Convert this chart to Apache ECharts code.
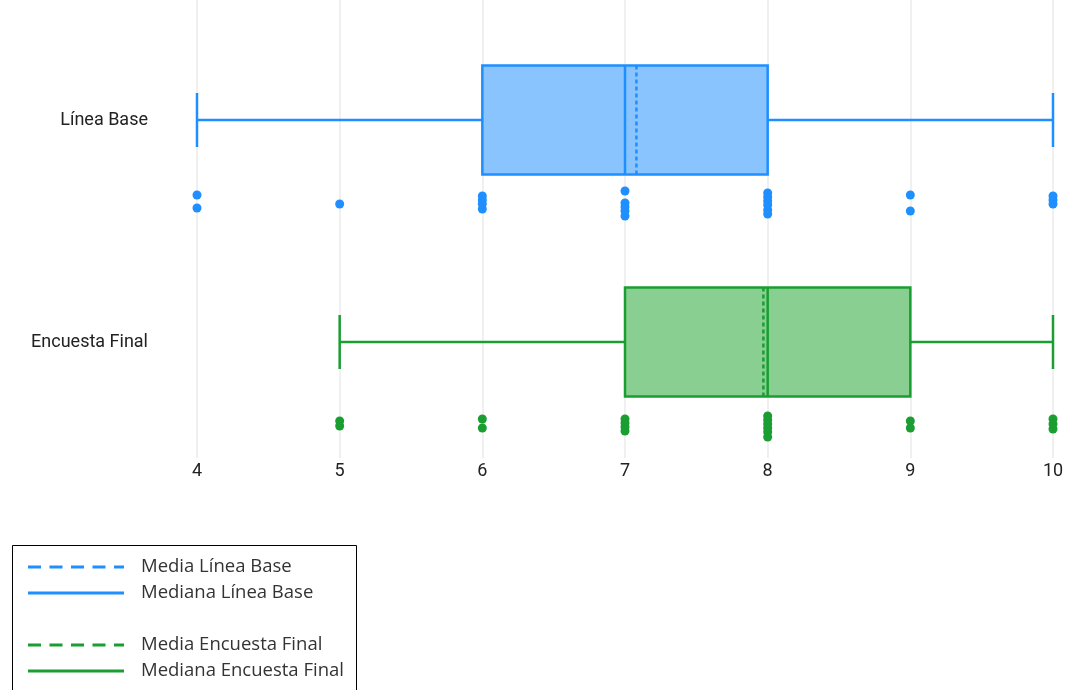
<!DOCTYPE html>
<html><head><meta charset="utf-8">
<script src="https://cdn.jsdelivr.net/npm/echarts@6/dist/echarts.min.js"></script>
<style>html,body{margin:0;padding:0;background:#fff}#c{width:1065px;height:690px}</style>
</head><body><div id="c"></div>
<script>
// ---- data ----
const categories = ['Línea Base', 'Encuesta Final'];
const xTicks = [4, 5, 6, 7, 8, 9, 10];
// [min, q1, median, q3, max, mean]
const statsBase  = [4, 6, 7, 8, 10, 7.08];
const statsFinal = [5, 7, 8, 9, 10, 7.97];
// individual responses (x) with vertical jitter offsets (px below the group row)
const baseX      = [4, 4, 5, 6, 6, 6, 6, 7, 7, 7, 7, 7, 8, 8, 8, 8, 8, 8, 9, 9, 10, 10, 10];
const baseJitter = [75, 88, 84, 76, 80, 84, 89, 71, 83, 87, 91, 96, 73, 77, 81, 85, 90, 94, 75, 91, 76, 80, 84];
const finalX      = [5, 5, 6, 6, 7, 7, 7, 7, 8, 8, 8, 8, 8, 8, 9, 9, 10, 10, 10];
const finalJitter = [79, 84, 77, 86, 77, 81, 85, 89, 74, 78, 82, 86, 90, 95, 79, 86, 77, 82, 87];

const legendItems = ['Media Línea Base', 'Mediana Línea Base', 'Media Encuesta Final', 'Mediana Encuesta Final'];

// ---- styling / layout ----
const rowY = [120, 342];
const BLUE = '#1f8fff', BLUE_FILL = '#89c4ff';
const GREEN = '#1a9e32', GREEN_FILL = '#89cf91';

function boxRender(fill, stroke) {
  return function (params, api) {
    const yc = rowY[api.value(0)];
    const mn = api.coord([api.value(1), yc]);
    const q1 = api.coord([api.value(2), yc]);
    const md = api.coord([api.value(3), yc]);
    const q3 = api.coord([api.value(4), yc]);
    const mx = api.coord([api.value(5), yc]);
    const me = api.coord([api.value(6), yc]);
    const top = api.coord([4, yc - 54.5])[1];
    const bot = api.coord([4, yc + 54.5])[1];
    const capT = api.coord([4, yc - 27])[1];
    const capB = api.coord([4, yc + 27])[1];
    const cy = mn[1];
    const ls = {stroke: stroke, lineWidth: 2.5};
    return {type: 'group', children: [
      {type: 'line', shape: {x1: mn[0], y1: cy, x2: q1[0], y2: cy}, style: ls},
      {type: 'line', shape: {x1: q3[0], y1: cy, x2: mx[0], y2: cy}, style: ls},
      {type: 'line', shape: {x1: mn[0], y1: capT, x2: mn[0], y2: capB}, style: ls},
      {type: 'line', shape: {x1: mx[0], y1: capT, x2: mx[0], y2: capB}, style: ls},
      {type: 'rect', shape: {x: q1[0], y: top, width: q3[0] - q1[0], height: bot - top}, style: {fill: fill, stroke: stroke, lineWidth: 2.5}},
      {type: 'line', shape: {x1: md[0], y1: top, x2: md[0], y2: bot}, style: ls},
      {type: 'line', shape: {x1: me[0], y1: top, x2: me[0], y2: bot}, style: {stroke: stroke, lineWidth: 2.5, lineDash: [4, 3]}}
    ]};
  };
}

const chart = echarts.init(document.getElementById('c'), null, {renderer: 'canvas'});
const FONT = 'Roboto, "Liberation Sans", sans-serif';
const LFONT = '"Open Sans", "Noto Sans", sans-serif';

const legendY = [567, 593, 645, 671];
const legendColors = [BLUE, BLUE, GREEN, GREEN];
const legendGraphics = [{type: 'rect', shape: {x: 12.5, y: 545.5, width: 344, height: 160}, style: {fill: '#fff', stroke: '#000', lineWidth: 1}}];
legendItems.forEach((t, i) => {
  const dashed = i % 2 === 0;
  legendGraphics.push({type: 'line', shape: {x1: 28, y1: legendY[i], x2: 124, y2: legendY[i]},
    style: {stroke: legendColors[i], lineWidth: 3, lineDash: dashed ? [13, 8.5] : null}});
  legendGraphics.push({type: 'text', x: 141, y: legendY[i], style: {text: t, fill: '#333', font: '18.5px ' + LFONT, textVerticalAlign: 'middle'}});
});

chart.setOption({
  animation: false,
  grid: {left: 197, right: 12, top: 0, height: 458, outerBoundsMode: 'none', containLabel: false},
  xAxis: {type: 'value', min: xTicks[0], max: xTicks[xTicks.length - 1], interval: 1,
    axisLine: {show: false}, axisTick: {show: false},
    axisLabel: {color: '#222', fontSize: 18, fontFamily: FONT, margin: 4},
    splitLine: {show: true, lineStyle: {color: '#ebebeb', width: 1.5}}},
  yAxis: {type: 'value', min: 0, max: 458, inverse: true,
    axisLine: {show: false}, axisTick: {show: false}, splitLine: {show: false},
    axisLabel: {customValues: rowY, margin: 49, color: '#222', fontSize: 18, fontFamily: FONT,
      formatter: v => categories[rowY.indexOf(v)]}},
  series: [
    {type: 'custom', renderItem: boxRender(BLUE_FILL, BLUE), encode: {x: [1, 2, 3, 4, 5, 6]},
      data: [[0].concat(statsBase)], z: 2},
    {type: 'custom', renderItem: boxRender(GREEN_FILL, GREEN), encode: {x: [1, 2, 3, 4, 5, 6]},
      data: [[1].concat(statsFinal)], z: 2},
    {type: 'scatter', symbolSize: 9, itemStyle: {color: BLUE, opacity: 1},
      data: baseX.map((x, i) => [x, rowY[0] + baseJitter[i]])},
    {type: 'scatter', symbolSize: 9, itemStyle: {color: GREEN, opacity: 1},
      data: finalX.map((x, i) => [x, rowY[1] + finalJitter[i]])}
  ],
  graphic: legendGraphics
});
</script></body></html>
